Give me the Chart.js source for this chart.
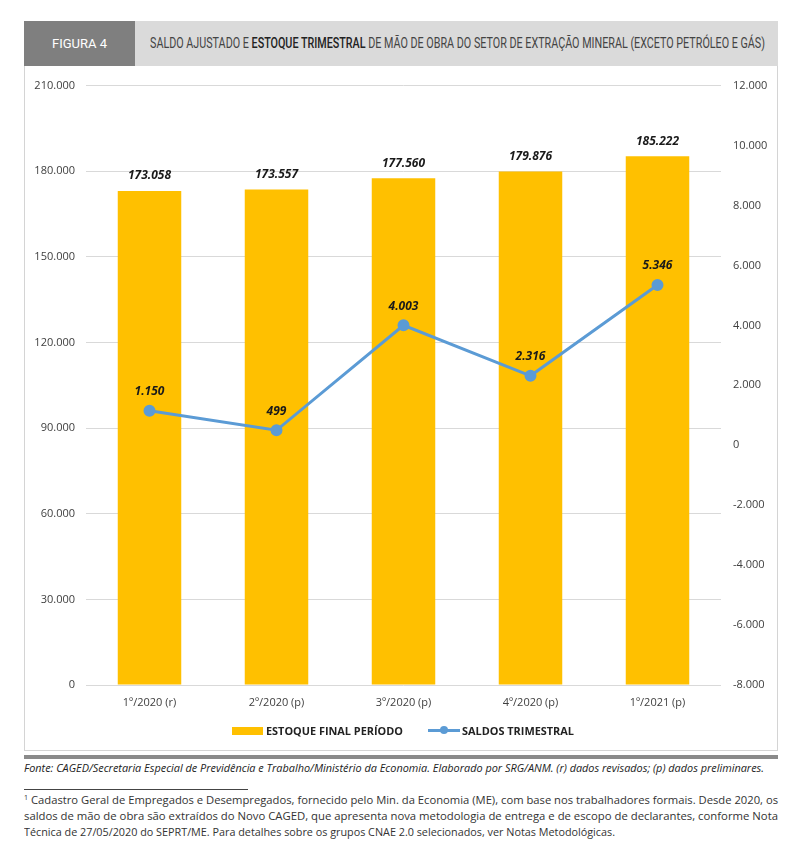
<!DOCTYPE html>
<html>
<head>
<meta charset="utf-8">
<script src="https://cdn.jsdelivr.net/npm/chart.js@4"></script>
<style>
  html, body { margin:0; padding:0; background:#fff; }
  body { width:800px; height:851px; position:relative; overflow:hidden; font-family:"Open Sans", sans-serif; }
  .abs { position:absolute; }
  #header { left:24px; top:21px; width:754px; height:45px; background:#dadada; }
  #figbox { left:24px; top:21px; width:111px; height:45px; background:#7f7f7f; color:#fff; font-family:"Roboto", sans-serif; font-size:13px; line-height:45px; text-align:center; }
  .fit { white-space:nowrap; transform-origin:0 50%; }
  #title { left:150px; top:35px; font-family:"Roboto", sans-serif; font-size:14px; line-height:16px; color:#444; }
  #title b { color:#222; font-weight:500; }
  #frame { left:24px; top:66px; width:752px; height:684px; border:1px solid #d4d4d4; border-top:none; }
  #thick { left:24px; top:755px; width:754px; height:4px; background:#8a8a8a; }
  #chartwrap { left:25px; top:67px; width:752px; height:684px; }
  .leg { font-family:"Open Sans", sans-serif; font-weight:700; font-size:10px; color:#222; line-height:14px; }
  #fonte { left:24px; top:761px; font-style:italic; font-size:10.5px; color:#222; line-height:14px; }
  #sep { left:24px; top:789px; width:224px; height:1px; background:#444; }
  .fn { left:24px; font-size:11px; color:#333; line-height:16px; height:16px; }
  .fn sup { font-size:7px; line-height:0; vertical-align:4px; }
</style>
</head>
<body>
<div id="header" class="abs"></div>
<div id="figbox" class="abs">FIGURA 4</div>
<div id="title" class="abs fit" data-w="615">SALDO AJUSTADO E <b>ESTOQUE TRIMESTRAL</b> DE MÃO DE OBRA DO SETOR DE EXTRAÇÃO MINERAL (EXCETO PETRÓLEO E GÁS)</div>
<div id="frame" class="abs"></div>
<div id="chartwrap" class="abs"><canvas id="c" width="752" height="684" style="width:752px;height:684px"></canvas></div>

<div class="abs" style="left:232px;top:727px;width:31px;height:8px;background:#ffc000"></div>
<div class="abs leg fit" data-w="137" style="left:266px;top:724px">ESTOQUE FINAL PERÍODO</div>
<div class="abs" style="left:428px;top:729px;width:32px;height:3px;background:#5b9bd5"></div>
<div class="abs" style="left:440px;top:726px;width:8px;height:8px;border-radius:50%;background:#5b9bd5"></div>
<div class="abs leg fit" data-w="112" style="left:462px;top:724px">SALDOS TRIMESTRAL</div>

<div id="thick" class="abs"></div>
<div id="fonte" class="abs fit" data-w="740">Fonte: CAGED/Secretaria Especial de Previdência e Trabalho/Ministério da Economia. Elaborado por SRG/ANM. (r) dados revisados; (p) dados preliminares.</div>
<div id="sep" class="abs"></div>
<div class="abs fn fit" data-w="754" style="top:792px"><sup>1</sup> Cadastro Geral de Empregados e Desempregados, fornecido pelo Min. da Economia (ME), com base nos trabalhadores formais. Desde 2020, os</div>
<div class="abs fn fit" data-w="754" style="top:808px">saldos de mão de obra são extraídos do Novo CAGED, que apresenta nova metodologia de entrega e de escopo de declarantes, conforme Nota</div>
<div class="abs fn fit" data-w="591" style="top:824px">Técnica de 27/05/2020 do SEPRT/ME. Para detalhes sobre os grupos CNAE 2.0 selecionados, ver Notas Metodológicas.</div>

<script>
// ---- data ----
const categories = ['1º/2020 (r)', '2º/2020 (p)', '3º/2020 (p)', '4º/2020 (p)', '1º/2021 (p)'];
const estoqueFinal = [173058, 173557, 177560, 179876, 185222];
const saldosTrimestral = [1150, 499, 4003, 2316, 5346];
const leftTicks = { min: 0, max: 210000, step: 30000 };
const rightTicks = { min: -8000, max: 12000, step: 2000 };
const seriesNames = ['ESTOQUE FINAL PERÍODO', 'SALDOS TRIMESTRAL'];

function fmt(n) {
  const s = String(Math.abs(Math.round(n))).replace(/\B(?=(\d{3})+(?!\d))/g, '.');
  return (n < 0 ? '-' : '') + s;
}

// fit text elements
document.querySelectorAll('.fit').forEach(el => {
  const w = el.getBoundingClientRect().width;
  const target = +el.dataset.w;
  el.style.transform = 'scaleX(' + (target / w) + ')';
});

const valuePlugin = {
  id: 'values',
  afterDatasetsDraw(chart) {
    const ctx = chart.ctx;
    ctx.save();
    ctx.font = 'italic bold 12px "Open Sans"';
    ctx.fillStyle = '#1a1a1a';
    ctx.textAlign = 'center';
    ctx.textBaseline = 'middle';
    chart.data.datasets.forEach((ds, i) => {
      const meta = chart.getDatasetMeta(i);
      meta.data.forEach((el, j) => {
        const off = ds.type === 'bar' ? 15 : 19;
        ctx.fillText(fmt(ds.data[j]), el.x, el.y - off);
      });
    });
    ctx.restore();
  }
};

const tickFont = { family: '"Open Sans"', size: 11 };

new Chart(document.getElementById('c'), {
  data: {
    labels: categories,
    datasets: [
      {
        type: 'line', label: seriesNames[1], data: saldosTrimestral, yAxisID: 'y1',
        borderColor: '#5b9bd5', backgroundColor: '#5b9bd5', borderWidth: 3,
        pointRadius: 4.5, pointBackgroundColor: '#5b9bd5', pointBorderColor: '#5b9bd5',
        tension: 0, order: 0
      },
      {
        type: 'bar', label: seriesNames[0], data: estoqueFinal, yAxisID: 'y',
        backgroundColor: '#ffc000', borderWidth: 0,
        barPercentage: 0.5, categoryPercentage: 1, order: 1
      }
    ]
  },
  options: {
    responsive: false,
    animation: false,
    devicePixelRatio: 1,
    layout: { padding: { top: 17, left: 0, right: 0, bottom: 0 } },
    plugins: { legend: { display: false }, tooltip: { enabled: false } },
    scales: {
      x: {
        grid: { display: false, drawTicks: false },
        border: { display: false },
        ticks: { font: tickFont, color: '#404040', padding: 11, maxRotation: 0 },
        afterFit(s) { s.height = 66; }
      },
      y: {
        position: 'left', min: leftTicks.min, max: leftTicks.max,
        grid: { color: '#d9d9d9', lineWidth: 1, drawTicks: false },
        border: { display: false },
        ticks: { stepSize: leftTicks.step, font: tickFont, color: '#404040', padding: 11, callback: v => fmt(v) },
        afterFit(s) { s.width = 61; }
      },
      y1: {
        position: 'right', min: rightTicks.min, max: rightTicks.max,
        grid: { display: false, drawTicks: false },
        border: { display: false },
        ticks: { stepSize: rightTicks.step, font: tickFont, color: '#404040', padding: 12, callback: v => fmt(v) },
        afterFit(s) { s.width = 56; }
      }
    }
  },
  plugins: [valuePlugin]
});
</script>
</body>
</html>
